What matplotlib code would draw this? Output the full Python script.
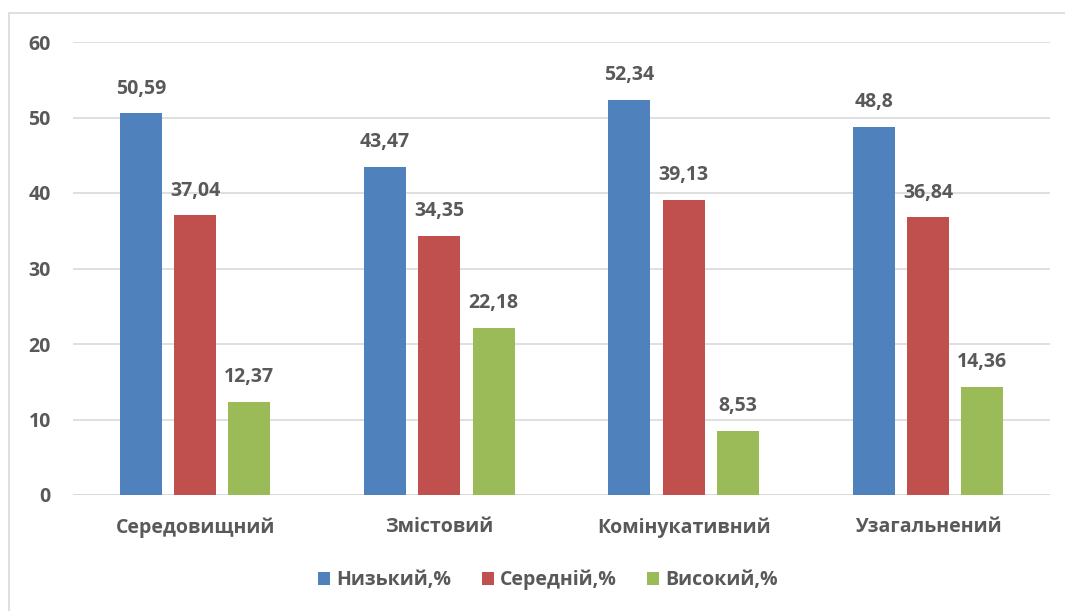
import matplotlib.pyplot as plt
import numpy as np
from matplotlib.patches import Rectangle

categories = ["Середовищний", "Змістовий", "Комінукативний", "Узагальнений"]
series_names = ["Низький,%", "Середній,%", "Високий,%"]
low = [50.59, 43.47, 52.34, 48.8]
mid = [37.04, 34.35, 39.13, 36.84]
high = [12.37, 22.18, 8.53, 14.36]
yticks = [0, 10, 20, 30, 40, 50, 60]

colors = ["#4f81bd", "#c0504d", "#9bbb59"]
txt = "#595959"
fs = 14


def fmt(v: float) -> str:
    return f"{v:g}".replace(".", ",")


def main() -> None:
    plt.rcParams["font.family"] = ["Open Sans", "DejaVu Sans"]
    plt.rcParams["font.weight"] = "bold"
    fig = plt.figure(figsize=(10.65, 6.11), dpi=100)
    # outer chart frame
    fig.patches.append(Rectangle((9 / 1065, -0.1), 1.2, 1.1 - 13 / 611,
                                 transform=fig.transFigure, fill=False,
                                 edgecolor="#d9d9d9", linewidth=1.2))
    ax = fig.add_axes([73 / 1065, 1 - 495 / 611, 977 / 1065, 453 / 611])

    x = np.arange(len(categories))
    width = 0.172
    step = 0.222
    for k, (vals, name) in enumerate(zip([low, mid, high], series_names)):
        pos = x + (k - 1) * step
        ax.bar(pos, vals, width, color=colors[k], label=name, zorder=3)
        for p, v in zip(pos, vals):
            ax.text(p, v + 1.9, fmt(v), ha="center", va="bottom",
                    fontsize=fs, fontweight="bold", color=txt)

    ax.set_xlim(-0.5, len(categories) - 0.5)
    ax.set_ylim(0, 60)
    ax.set_yticks(yticks)
    ax.set_yticklabels([str(t) for t in yticks])
    ax.set_xticks(x)
    ax.set_xticklabels(categories)
    ax.tick_params(axis="both", length=0, labelsize=fs, labelcolor=txt)
    ax.tick_params(axis="y", pad=16)
    ax.tick_params(axis="x", pad=16)
    for lab in ax.get_xticklabels() + ax.get_yticklabels():
        lab.set_fontweight("bold")
    ax.grid(axis="y", color="#d9d9d9", linewidth=1.2, zorder=0)
    for s in ax.spines.values():
        s.set_visible(False)
    ax.axhline(0, color="#d9d9d9", linewidth=1.2, zorder=2)

    leg = fig.legend(loc="center", bbox_to_anchor=(548 / 1065, 1 - 580 / 611),
                     ncol=3, frameon=False, fontsize=fs, handlelength=0.6,
                     handleheight=0.6, handletextpad=0.3, columnspacing=1.6)
    for t in leg.get_texts():
        t.set_color(txt)
        t.set_fontweight("bold")

    fig.savefig("out.png", dpi=100)
    plt.close(fig)


if __name__ == "__main__":
    main()
